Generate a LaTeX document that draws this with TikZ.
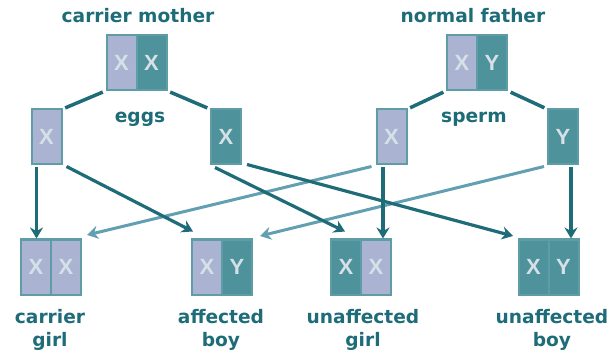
\documentclass[tikz,border=0pt]{standalone}
\usepackage{fontspec}
\setmainfont{DejaVu Sans}
\newfontfamily\chromfont{Liberation Sans}
\usetikzlibrary{arrows.meta,positioning,calc}
\definecolor{genelav}{HTML}{ABB3D3}
\definecolor{geneteal}{HTML}{4E929B}
\definecolor{geneedge}{HTML}{5E9DA6}
\definecolor{genedark}{HTML}{1D6C78}
\definecolor{genelight}{HTML}{619FB1}
\definecolor{geneletter}{HTML}{D6E1E7}
\tikzstyle{chrom}=[draw=geneedge,line width=2pt,minimum width=30pt,minimum height=55pt,inner sep=0pt,outer sep=0pt,text=geneletter,font=\chromfont\bfseries\fontsize{22}{22}\selectfont]
\tikzstyle{lav}=[chrom,fill=genelav]
\tikzstyle{tl}=[chrom,fill=geneteal]
\tikzstyle{caption}=[text=genedark,font=\bfseries\fontsize{18.6}{23}\selectfont,align=center,anchor=base,inner sep=0pt]
\tikzstyle{link}=[genedark,line width=3.5pt,shorten <=4pt,shorten >=4pt]
\tikzstyle{darrow}=[genedark,line width=3.2pt,-{Stealth[length=11pt,width=13pt]}]
\tikzstyle{larrow}=[genelight,line width=3pt,-{Stealth[length=11pt,width=13pt]}]

\begin{document}
\begin{tikzpicture}[x=1pt,y=-1pt]
\useasboundingbox (0,0) rectangle (613,358);
% parents
\node [lav] (momA) at (121.5,63) {X};
\node [tl, right=0pt of momA] (momB) {X};
\node [lav] (dadA) at (462,63) {X};
\node [tl, right=0pt of dadA] (dadB) {Y};
\node [caption] (momcap) at (138,23) {carrier mother};
\node [caption] (dadcap) at (473,23) {normal father};
% eggs and sperm
\node [lav] (eggA) at (46.5,137) {X};
\node [tl] (eggB) at (226,137) {X};
\node [lav] (spermA) at (391.5,137) {X};
\node [tl] (spermB) at (563,137) {Y};
\node [caption] (eggcap) at (140,123) {eggs};
\node [caption] (spermcap) at (474,123) {sperm};
% children
\node [lav] (girlA) at (36,267) {X};
\node [lav, right=0pt of girlA] (girlB) {X};
\node [lav] (boyA) at (207,267) {X};
\node [tl, right=0pt of boyA] (boyB) {Y};
\node [tl] (ugirlA) at (346,267) {X};
\node [lav, right=0pt of ugirlA] (ugirlB) {X};
\node [tl] (uboyA) at (533.5,267) {X};
\node [tl, right=0pt of uboyA] (uboyB) {Y};
\node [caption] (girlcap) at (50,346) {carrier\\girl};
\node [caption] (boycap) at (221,346) {affected\\boy};
\node [caption] (ugirlcap) at (363,346) {unaffected\\girl};
\node [caption] (uboycap) at (552,346) {unaffected\\boy};
% parents to gametes
\draw [link] (momA.south west) -- (eggA.north east);
\draw [link] (momB.south east) -- (eggB.north west);
\draw [link] (dadA.south west) -- (spermA.north east);
\draw [link] (dadB.south east) -- (spermB.north west);
% father's gametes
\draw [larrow] ($(spermA.south west)+(-5,2)$) -- ($(girlB.north east)+(6,-4.5)$);
\draw [larrow] ($(spermB.south west)+(-4,2)$) -- ($(boyB.north east)+(8,-3.5)$);
\draw [darrow, shorten <=3pt, shorten >=1pt] ([xshift=-8.5pt]spermA.south) -- ([xshift=-8.5pt]spermA.south |- ugirlB.north);
\draw [darrow, shorten <=3pt, shorten >=1pt] ([xshift=8pt]spermB.south) -- ([xshift=8pt]spermB.south |- uboyB.north);
% mother's gametes
\draw [darrow, shorten <=3pt, shorten >=1pt] ([xshift=-10pt]eggA.south) -- ([xshift=-10pt]eggA.south |- girlA.north);
\draw [darrow] ($(eggA.south east)+(5,2)$) -- ($(boyA.north west)+(1,-8)$);
\draw [darrow] ($(eggB.south)+(-11,3)$) -- ($(ugirlA.north)+(-1,-8)$);
\draw [darrow] ($(eggB.south east)+(6,0)$) -- ($(uboyA.north west)+(-5.5,-3.5)$);
\end{tikzpicture}
\end{document}
